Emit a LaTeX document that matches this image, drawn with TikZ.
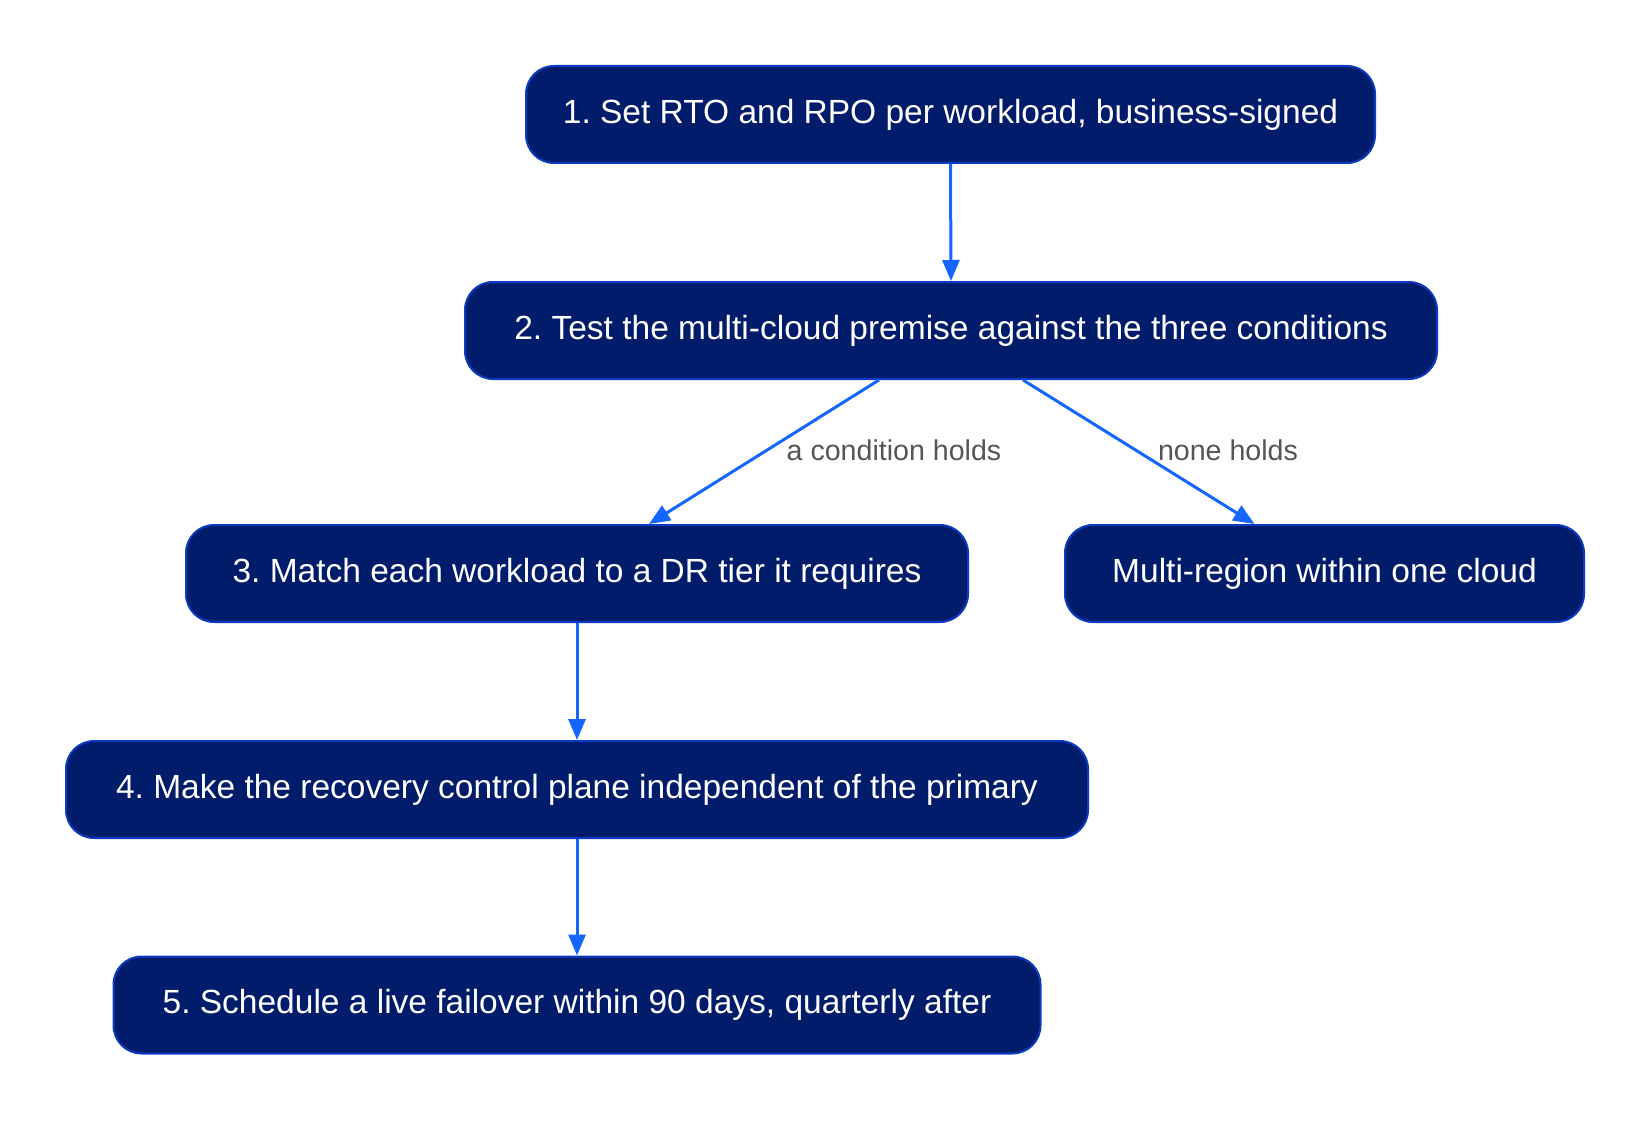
\documentclass[tikz,border=0pt]{standalone}
\usepackage{fontspec}
\setmainfont{Liberation Sans}
\usetikzlibrary{arrows.meta}
\definecolor{boxfill}{HTML}{001C6B}
\definecolor{boxline}{HTML}{0B3BC2}
\definecolor{arrowc}{HTML}{1565FF}
\definecolor{labelc}{HTML}{555555}
\frenchspacing
\begin{document}
\begin{tikzpicture}[x=1pt,y=-1pt,
  stepbox/.style={rectangle, rounded corners=28pt, fill=boxfill, draw=boxline, line width=2pt,
    text=white, inner sep=0pt, minimum height=97pt, font=\fontsize{33.5}{40}\selectfont},
  conn/.style={draw=arrowc, line width=3pt, -{Triangle[length=21pt,width=17pt]}},
  elabel/.style={text=labelc, font=\fontsize{28.6}{34}\selectfont, inner sep=0pt}]
\useasboundingbox (0,0) rectangle (1650,1121);
\node[stepbox, minimum width=849pt] (n1) at (950.5,114.5) {1. Set RTO and RPO per workload, business-signed};
\node[stepbox, minimum width=972pt] (n2) at (951,330.5) {2. Test the multi-cloud premise against the three conditions};
\node[stepbox, minimum width=782pt] (n3) at (577,573.5) {3. Match each workload to a DR tier it requires};
\node[stepbox, minimum width=519pt] (m) at (1324.5,573.5) {Multi-region within one cloud};
\node[stepbox, minimum width=1022pt] (n4) at (577,789.5) {4. Make the recovery control plane independent of the primary};
\node[stepbox, minimum width=927pt] (n5) at (577,1005) {5. Schedule a live failover within 90 days, quarterly after};
\draw[conn] (n1.south) -- (n2.north);
\draw[conn] ([xshift=-72pt]n2.south) -- ([xshift=72pt]n3.north);
\draw[conn] ([xshift=72pt]n2.south) -- ([xshift=-70pt]m.north);
\draw[conn] (n3.south) -- (n4.north);
\draw[conn] (n4.south) -- (n5.north);
\node[elabel] (l1) at (894,450) {a condition holds};
\node[elabel] (l2) at (1228,450) {none holds};
\end{tikzpicture}
\end{document}
